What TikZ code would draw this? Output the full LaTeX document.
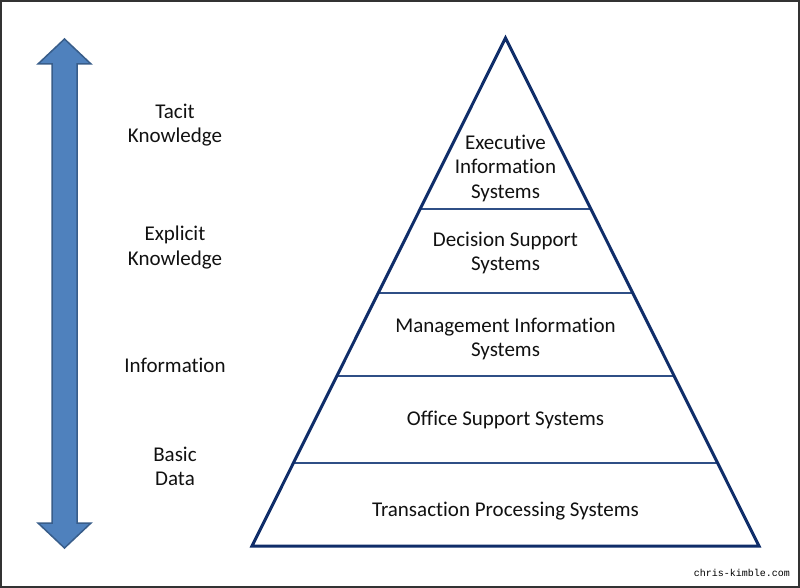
\documentclass[tikz,border=0pt]{standalone}
\usepackage{fontspec}
\setmainfont{Carlito}[Ligatures=NoCommon]
\newfontfamily\wmfont{Liberation Mono}
\definecolor{navy}{HTML}{0F2D69}
\definecolor{divider}{HTML}{2F4F86}
\definecolor{arrowfill}{HTML}{4F81BD}
\definecolor{arrowedge}{HTML}{385D8A}
\definecolor{txt}{HTML}{111111}
\begin{document}
\begin{tikzpicture}[x=1pt,y=-1pt,
  lbl/.style={align=center,text=txt,font=\fontsize{21}{24.5}\selectfont,inner sep=0pt},
  edge/.style={draw=navy,line width=3pt,line join=miter},
  divline/.style={draw=divider,line width=2.4pt}]
\useasboundingbox (0,0) rectangle (800,588);
\fill[white] (0,0) rectangle (800,588);
\draw[black!80,line width=2pt] (1,1) rectangle (799,587);
% double arrow
\filldraw[fill=arrowfill,draw=arrowedge,line width=1.5pt,line join=miter]
  (64.5,39) -- (91,64) -- (77,64) -- (77,523) -- (91,523) -- (64.5,548)
  -- (38,523) -- (52,523) -- (52,64) -- (38,64) -- cycle;
% pyramid
\coordinate (apex) at (505.5,38);
\coordinate (bl) at (252,546);
\coordinate (br) at (759,546);
\foreach \y/\n in {209/a,293/b,376/c,463/d}{
  \path (apex) -- (bl) coordinate[pos={(\y-38)/508}] (l\n);
  \path (apex) -- (br) coordinate[pos={(\y-38)/508}] (r\n);
}
\draw[divline] (la) -- (ra);
\draw[divline] (lb) -- (rb);
\draw[divline] (lc) -- (rc);
\draw[divline] (ld) -- (rd);
\draw[edge] (apex) -- (br) -- (bl) -- cycle;
% pyramid labels
\node[lbl] (eis) at (505.5,168) {Executive\\Information\\Systems};
\node[lbl] (dss) at (505.5,253) {Decision Support\\Systems};
\node[lbl] (mis) at (505.5,339) {Management Information\\Systems};
\node[lbl] (oss) at (505.5,420) {Office Support Systems};
\node[lbl] (tps) at (505.5,511) {Transaction Processing Systems};
% left labels
\node[lbl] (tacit) at (175,125) {Tacit\\Knowledge};
\node[lbl] (explicit) at (175,247.5) {Explicit\\Knowledge};
\node[lbl] (info) at (175,365) {Information};
\node[lbl] (basic) at (175,466.5) {Basic\\Data};
% watermark
\node[anchor=east,inner sep=0pt,text=black,font=\wmfont\fontsize{10}{12}\selectfont] (wm) at (790,573) {chris-kimble.com};
\end{tikzpicture}
\end{document}
